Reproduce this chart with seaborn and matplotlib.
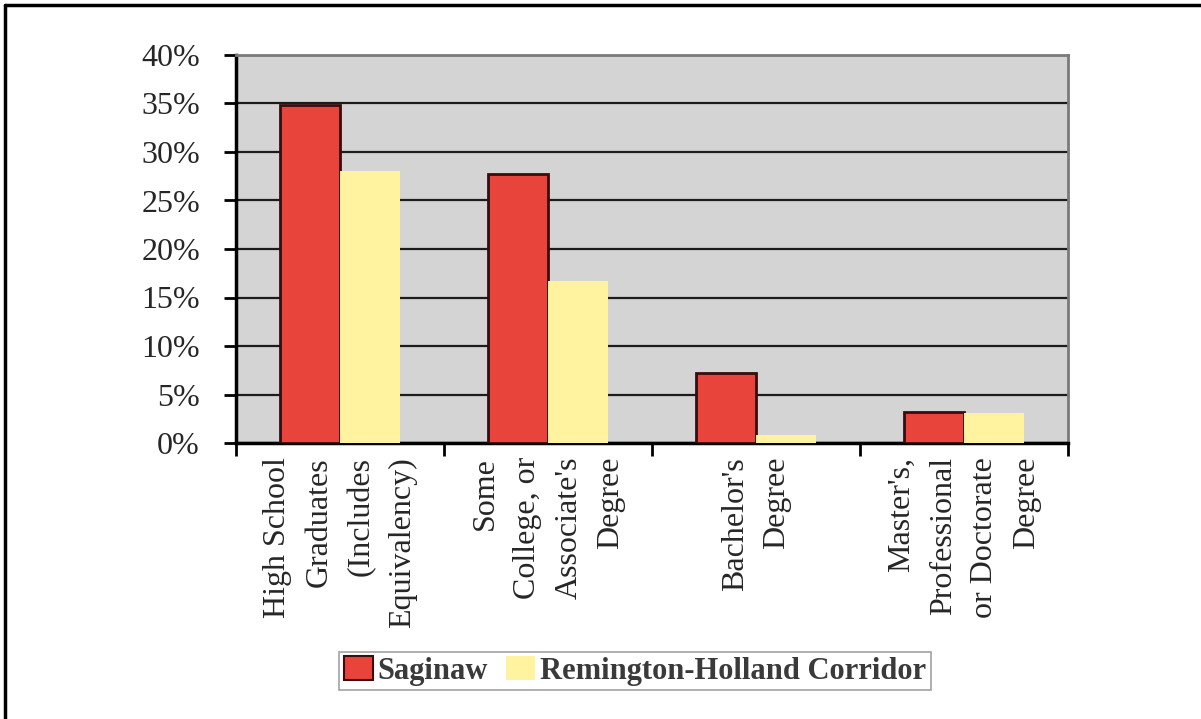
import matplotlib
matplotlib.use("Agg")
import matplotlib.pyplot as plt
import seaborn as sns
import pandas as pd
from matplotlib.patches import Patch
from matplotlib.lines import Line2D
from matplotlib.ticker import FuncFormatter

# Educational attainment shares (percent of population)
categories = [
    "High School\nGraduates\n(Includes\nEquivalency)",
    "Some\nCollege, or\nAssociate's\nDegree",
    "Bachelor's\nDegree",
    "Master's,\nProfessional\nor Doctorate\nDegree",
]
series_names = ["Saginaw", "Remington-Holland Corridor"]
saginaw = [34.8, 27.7, 7.2, 3.2]
corridor = [28.0, 16.7, 0.8, 3.1]
y_ticks = [0, 5, 10, 15, 20, 25, 30, 35, 40]

df = pd.DataFrame({
    "category": categories * 2,
    "area": [series_names[0]] * len(categories) + [series_names[1]] * len(categories),
    "share": saginaw + corridor,
})

RED = "#e8443c"
YELLOW = "#fff3a0"
RED_EDGE = "#3a0d0d"

sns.set_style("white")
plt.rcParams["font.family"] = ["Liberation Serif", "DejaVu Serif"]

fig = plt.figure(figsize=(12.01, 7.19), dpi=100)
ax = fig.add_axes([236 / 1201, 1 - 443 / 719, (1068 - 236) / 1201, (443 - 55) / 719])

sns.barplot(data=df, x="category", y="share", hue="area", hue_order=series_names,
            palette=[RED, YELLOW], saturation=1, width=0.58, gap=0,
            legend=False, ax=ax, zorder=3)

for bar in ax.containers[0]:
    bar.set_edgecolor(RED_EDGE)
    bar.set_linewidth(2)
for bar in ax.containers[1]:
    bar.set_edgecolor("none")

ax.set_facecolor("#d4d4d4")
ax.set_axisbelow(True)
ax.set_ylim(0, 40)
ax.set_yticks(y_ticks)
ax.yaxis.set_major_formatter(FuncFormatter(lambda v, _: f"{v:.0f}%"))
ax.yaxis.grid(True, color="#1c1c1c", linewidth=1.6)
ax.xaxis.grid(False)

# Category boundaries carry the tick marks, the labels sit at the centres
ax.set_xlim(-0.5, len(categories) - 0.5)
ax.set_xticks([i - 0.5 for i in range(len(categories) + 1)])
ax.set_xticklabels([])
ax.set_xticks(range(len(categories)), minor=True)
ax.set_xticklabels(categories, minor=True, rotation=90, fontsize=23)
for lab in ax.get_xticklabels(minor=True):
    lab.set_multialignment("right")
    lab.set_linespacing(1.58)
ax.tick_params(axis="x", which="minor", length=0, pad=10)
ax.tick_params(axis="x", which="major", length=9, width=2, direction="out",
               color="black", bottom=True)
ax.tick_params(axis="y", length=9, width=2, direction="out", color="black",
               labelsize=23, pad=17, left=True)
ax.set_xlabel("")
ax.set_ylabel("")

for side in ("left", "bottom"):
    ax.spines[side].set_color("black")
    ax.spines[side].set_linewidth(2.5)
for side in ("top", "right"):
    ax.spines[side].set_color("#7a7a7a")
    ax.spines[side].set_linewidth(2)
    ax.spines[side].set_visible(True)

handles = [Patch(facecolor=RED, edgecolor=RED_EDGE, linewidth=1.5),
           Patch(facecolor=YELLOW, edgecolor="none")]
leg = fig.legend(handles=handles, labels=series_names, loc="center",
                 bbox_to_anchor=(635 / 1201, 1 - 671 / 719), ncol=2,
                 frameon=True, fancybox=False, edgecolor="#8a8a8a",
                 prop={"family": ["Liberation Serif"], "weight": "bold", "size": 22},
                 handlelength=0.95, handleheight=0.8, handletextpad=0.15,
                 columnspacing=0.6, borderpad=0.15, borderaxespad=0)
leg.get_frame().set_linewidth(1.2)
for t in leg.get_texts():
    t.set_color("#3a3a3a")

# Frame lines along the top and left of the figure
fig.add_artist(Line2D([5 / 1201, 5 / 1201], [0, 1 - 5 / 719], transform=fig.transFigure,
                      color="black", linewidth=2.5))
fig.add_artist(Line2D([5 / 1201, 1], [1 - 5 / 719, 1 - 5 / 719], transform=fig.transFigure,
                      color="black", linewidth=2.5))

fig.savefig("out.png", dpi=100, facecolor="white")
